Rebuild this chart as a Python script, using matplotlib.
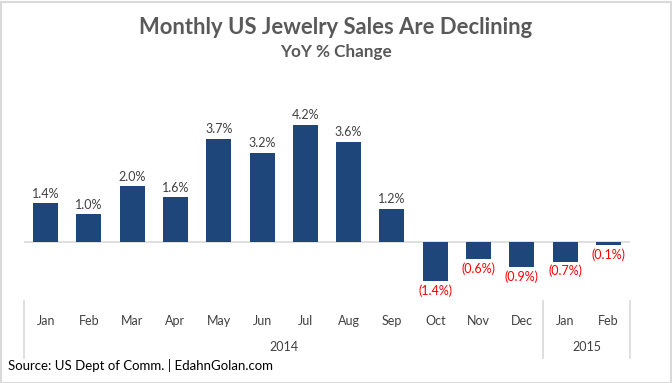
import numpy as np
import matplotlib.pyplot as plt
from matplotlib.patches import Rectangle

months = ['Jan', 'Feb', 'Mar', 'Apr', 'May', 'Jun', 'Jul', 'Aug', 'Sep',
          'Oct', 'Nov', 'Dec', 'Jan', 'Feb']
yoy = [1.4, 1.0, 2.0, 1.6, 3.7, 3.2, 4.2, 3.6, 1.2, -1.4, -0.6, -0.9, -0.7, -0.1]
years = ['2014', '2015']
year_counts = [12, 2]

plt.rcParams['font.family'] = ['Lato', 'DejaVu Sans']

W, H = 672, 383
fig = plt.figure(figsize=(W / 100, H / 100), dpi=100)

# axes spans pixel x 24..630, y 90..300 (zero at 242)
left, right, top, bottom = 24, 630, 90, 300
ax = fig.add_axes([left / W, 1 - bottom / H, (right - left) / W, (bottom - top) / H])
px_per = 27.9
ax.set_ylim(-(bottom - 242) / px_per, (242 - top) / px_per)
ax.set_xlim(-0.5, len(months) - 0.5)

x = np.arange(len(months))
ax.bar(x, yoy, width=0.58, color='#1F467A')
ax.axhline(0, color='#D9D9D9', lw=1.2, zorder=0)

for i, v in enumerate(yoy):
    if v >= 0:
        ax.text(i, v + 0.12, f'{v:.1f}%', ha='center', va='bottom',
                fontsize=9, color='#404040')
    else:
        ax.text(i, v - 0.12, f'({abs(v):.1f}%)', ha='center', va='top',
                fontsize=9, color='#FF0000')

for s in ax.spines.values():
    s.set_visible(False)
ax.set_xticks([])
ax.set_yticks([])

# category axis labels drawn in figure pixels
def fy(py):
    return 1 - py / H

def fx(i):
    return (left + (i + 0.5) * (right - left) / len(months)) / W

for i, m in enumerate(months):
    fig.text(fx(i), fy(321), m, ha='center', va='center', fontsize=9, color='#404040')

start = 0
bounds = [0]
for yr, n in zip(years, year_counts):
    mid = start + n / 2 - 0.5
    fig.text(fx(mid), fy(347), yr, ha='center', va='center', fontsize=9, color='#404040')
    start += n
    bounds.append(start)

for b in bounds:
    xx = (left + b * (right - left) / len(months)) / W
    fig.add_artist(plt.Line2D([xx, xx], [fy(301), fy(358)], color='#D9D9D9', lw=1.2))

fig.text(336 / W, fy(27), 'Monthly US Jewelry Sales Are Declining', ha='center', va='center',
         fontsize=15.8, fontweight='bold', color='#595959')
fig.text(336 / W, fy(52), 'YoY % Change', ha='center', va='center',
         fontsize=12.3, fontweight='bold', color='#595959')
fig.text(8 / W, fy(366), 'Source: US Dept of Comm. | EdahnGolan.com', ha='left', va='center',
         fontsize=9.5, color='black')

fig.add_artist(Rectangle((0.5 / W, 0.5 / H), 1 - 2 / W, 1 - 2 / H, transform=fig.transFigure,
                         fill=False, edgecolor='#D9D9D9', lw=1.5))

fig.savefig('out.png', dpi=100)
